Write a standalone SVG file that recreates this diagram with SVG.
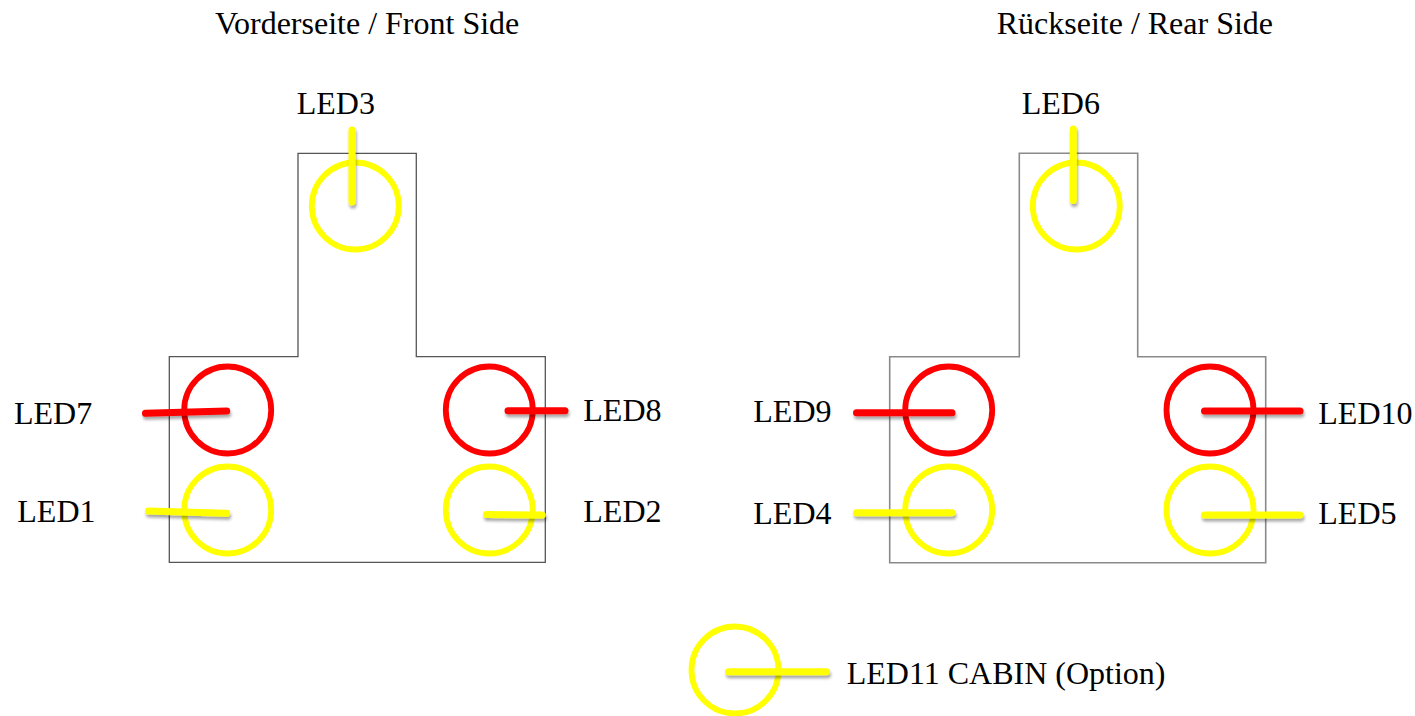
<svg xmlns="http://www.w3.org/2000/svg" width="1415" height="716" viewBox="0 0 1415 716">
<defs>
<filter id="sh" filterUnits="userSpaceOnUse" x="0" y="0" width="1415" height="716">
<feDropShadow dx="1" dy="3" stdDeviation="1.6" flood-color="#000" flood-opacity="0.35"/>
</filter>
</defs>
<style>
text{font-family:'Liberation Serif','Times New Roman','DejaVu Serif',serif;font-size:32px;fill:#000}
.outline{fill:none;stroke:#555;stroke-width:1.3}
.outline2{fill:none;stroke:#8a8a8a;stroke-width:1.6}
.ry{fill:none;stroke:#ffff00;stroke-width:5.8}
.rr{fill:none;stroke:#ff0000;stroke-width:5.8}
.ly{stroke:#ffff00;stroke-width:7;stroke-linecap:round;filter:url(#sh)}
.lr{stroke:#ff0000;stroke-width:7;stroke-linecap:round;filter:url(#sh)}
</style>
<rect width="1415" height="716" fill="#fff"/>
<g id="front">
<text x="215" y="34">Vorderseite / Front Side</text>
<path class="outline" d="M298,153.3 H416.3 V356.7 H545.3 V562.3 H169.3 V356.7 H298 Z"/>
</g>
<g id="rear">
<text x="996.7" y="34">Rückseite / Rear Side</text>
<path class="outline2" d="M1019.3,153.3 H1137.7 V356.7 H1265.7 V562.7 H889.7 V356.7 H1019.3 Z"/>
</g>
<g id="led3"><circle class="ry" cx="355.3" cy="206" r="43.5"/><text x="296.7" y="113.5">LED3</text></g>
<g id="led7"><circle class="rr" cx="227.7" cy="410" r="43.5"/><text x="14" y="423.5">LED7</text></g>
<g id="led8"><circle class="rr" cx="489.3" cy="410" r="43.5"/><text x="583.3" y="421">LED8</text></g>
<g id="led1"><circle class="ry" cx="227.7" cy="510" r="43.5"/><text x="17.3" y="522">LED1</text></g>
<g id="led2"><circle class="ry" cx="489.3" cy="510" r="43.5"/><text x="583.3" y="521.5">LED2</text></g>
<g id="led6"><circle class="ry" cx="1076.3" cy="206" r="43.5"/><text x="1021.7" y="113.5">LED6</text></g>
<g id="led9"><circle class="rr" cx="948.7" cy="410" r="43.5"/><text x="753.3" y="422">LED9</text></g>
<g id="led10"><circle class="rr" cx="1210" cy="410" r="43.5"/><text x="1318.3" y="423.5">LED10</text></g>
<g id="led4"><circle class="ry" cx="948.7" cy="510" r="43.5"/><text x="753.3" y="524">LED4</text></g>
<g id="led5"><circle class="ry" cx="1210" cy="510" r="43.5"/><text x="1318.3" y="524">LED5</text></g>
<g id="led11"><circle class="ry" cx="735" cy="670" r="43.5"/><text x="846.7" y="683.5">LED11 CABIN (Option)</text></g>
<g id="connectors">
<line class="ly" x1="352" y1="130" x2="352" y2="202"/>
<line class="lr" x1="145.5" y1="413.3" x2="226.7" y2="411"/>
<line class="lr" x1="508" y1="410.7" x2="565" y2="410.7"/>
<line class="ly" x1="148.5" y1="511" x2="226.7" y2="513.3"/>
<line class="ly" x1="486.5" y1="514.5" x2="542.3" y2="515"/>
<line class="ly" x1="1073.3" y1="129" x2="1073.3" y2="200.5"/>
<line class="lr" x1="856.5" y1="412.7" x2="952" y2="412.7"/>
<line class="lr" x1="1204.5" y1="411" x2="1300" y2="411"/>
<line class="ly" x1="856.5" y1="512.7" x2="952" y2="512.7"/>
<line class="ly" x1="1204.5" y1="515" x2="1300" y2="515"/>
<line class="ly" x1="728.5" y1="671.7" x2="826.5" y2="671.7"/>
</g>
</svg>
